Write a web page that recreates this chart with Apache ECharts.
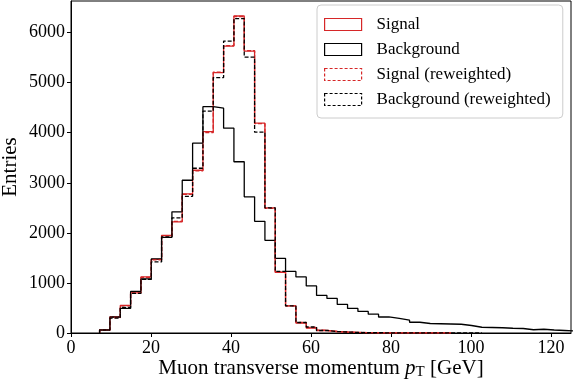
<!DOCTYPE html>
<html>
<head>
<meta charset="utf-8">
<script src="https://cdn.jsdelivr.net/npm/echarts@6/dist/echarts.min.js"></script>
<style>
  html, body { margin: 0; padding: 0; background: #fff; }
  #chart { width: 574px; height: 382px; }
</style>
</head>
<body>
<div id="chart"></div>
<script>
// bin edges (GeV)
const binEdges = [7.15, 9.73, 12.32, 14.90, 17.48, 20.07, 22.65, 25.23, 27.81, 30.40,
    32.98, 35.56, 38.15, 40.73, 43.31, 45.90, 48.48, 51.06, 53.64, 56.23,
    58.81, 61.39, 63.98, 66.56, 69.14, 71.73, 74.31, 76.89, 79.47, 82.06,
    84.64, 87.22, 89.81, 92.39, 94.97, 97.56, 100.14, 102.72, 105.30, 107.89,
    110.47, 113.05, 115.64, 118.22, 120.80, 123.39, 125.97, 128.55];

const signal = [60, 320, 550, 800, 1120, 1470, 1950, 2220, 2780, 3250, 4020, 5200, 5730, 6330,
    5630, 4190, 2500, 1210, 540, 200, 100, 50, 30, 20, 12, 8, 5, 4, 3, 2, 2, 1, 1, 1];
const background = [60, 320, 490, 830, 1080, 1480, 1910, 2420, 3050, 3790, 4520, 4490, 4090,
    3420, 2720, 2230, 1850, 1490, 1230, 1120, 940, 750, 690, 570, 490, 430, 375, 320, 290,
    255, 215, 190, 185, 180, 175, 150, 115, 110, 105, 95, 90, 65, 75, 60, 50, 40, 35];
const signalRw = [60, 310, 540, 800, 1110, 1460, 1940, 2230, 2770, 3240, 4000, 5210, 5740, 6320,
    5640, 4180, 2490, 1220, 540, 210, 110, 55, 30, 20, 12, 8, 5, 4, 3, 2, 2, 1, 1, 1];
const backgroundRw = [60, 300, 510, 790, 1070, 1420, 1920, 2300, 2730, 3290, 4430, 5100, 5830,
    6280, 5510, 4010, 2500, 1230, 540, 210, 120, 50, 30, 20, 12, 8, 5, 4, 3, 2, 2, 1, 1, 1, 1, 1, 1];

const xTicks = [0, 20, 40, 60, 80, 100, 120];
const yTicks = [0, 1000, 2000, 3000, 4000, 5000, 6000];

const red = '#d62728';
const black = '#000000';
const font = 'Liberation Serif';

// outline of a histogram (histtype = step)
function stepData(values) {
    const pts = [[binEdges[0], 0]];
    values.forEach((v, i) => pts.push([binEdges[i], v]));
    const n = values.length;
    pts.push([binEdges[n], values[n - 1]]);
    pts.push([binEdges[n], 0]);
    return pts;
}

function histSeries(name, values, color, dashed) {
    return {
        name: name,
        type: 'line',
        step: 'end',
        symbol: 'none',
        silent: true,
        clip: true,
        lineStyle: { color: color, width: 1.3, type: dashed ? [4, 2] : 'solid' },
        itemStyle: { color: color },
        data: stepData(values)
    };
}

function legendItem(name, color, dashed) {
    return {
        name: name,
        icon: 'rect',
        itemStyle: { color: 'rgba(0,0,0,0)', borderColor: color, borderWidth: 1.2, borderType: dashed ? [3, 2] : 'solid' }
    };
}

const chart = echarts.init(document.getElementById('chart'));
chart.setOption({
    animation: false,
    grid: {
        left: 71, right: 3, top: 1, bottom: 49,
        outerBoundsMode: 'none', containLabel: false,
        show: true, borderColor: black, borderWidth: 1
    },
    legend: {
        orient: 'vertical',
        left: 317,
        top: 5,
        padding: [11, 12, 10, 7],
        itemWidth: 37,
        itemHeight: 12,
        itemGap: 8,
        backgroundColor: 'rgba(255,255,255,0.8)',
        borderColor: '#cccccc',
        borderWidth: 1,
        borderRadius: 4,
        textStyle: { fontFamily: font, fontSize: 17, color: black, padding: [0, 0, 0, 10] },
        data: [
            legendItem('Signal', red, false),
            legendItem('Background', black, false),
            legendItem('Signal (reweighted)', red, true),
            legendItem('Background (reweighted)', black, true)
        ]
    },
    xAxis: {
        type: 'value',
        min: 0,
        max: 125,
        name: 'Muon transverse momentum {it|p}{sub|T} [GeV]',
        nameLocation: 'middle',
        nameGap: 24,
        nameMoveOverlap: false,
        nameTextStyle: {
            fontFamily: font, fontSize: 21, color: black,
            rich: {
                it: { fontFamily: font, fontSize: 21, fontStyle: 'italic', color: black },
                sub: { fontFamily: font, fontSize: 15, color: black, verticalAlign: 'bottom', padding: [8, 0, 0, 0] }
            }
        },
        splitLine: { show: false },
        axisLine: { lineStyle: { color: black, width: 1 } },
        axisTick: { inside: false, length: 4, lineStyle: { color: black }, customValues: xTicks },
        axisLabel: { fontFamily: font, fontSize: 18, color: black, margin: 6, customValues: xTicks,
            formatter: v => String(v) }
    },
    yAxis: {
        type: 'value',
        min: 0,
        max: 6630,
        name: 'Entries',
        nameLocation: 'middle',
        nameGap: 50,
        nameMoveOverlap: false,
        nameTextStyle: { fontFamily: font, fontSize: 21, color: black },
        splitLine: { show: false },
        axisLine: { show: true, lineStyle: { color: black, width: 1 } },
        axisTick: { show: true, inside: false, length: 4, lineStyle: { color: black }, customValues: yTicks },
        axisLabel: { fontFamily: font, fontSize: 18, color: black, margin: 6, customValues: yTicks,
            formatter: v => String(v) }
    },
    series: [
        histSeries('Signal', signal, red, false),
        histSeries('Background', background, black, false),
        histSeries('Signal (reweighted)', signalRw, red, true),
        histSeries('Background (reweighted)', backgroundRw, black, true)
    ]
});
</script>
</body>
</html>
